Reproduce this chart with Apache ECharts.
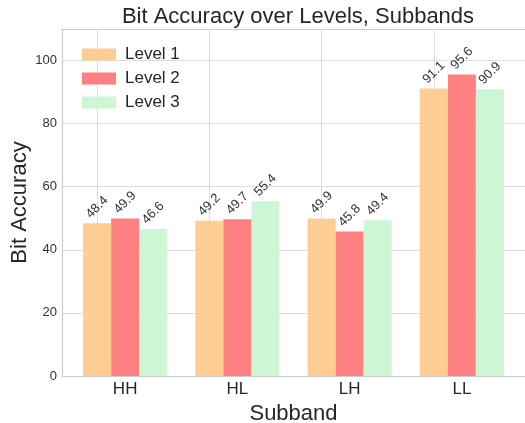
<!DOCTYPE html>
<html>
<head>
<meta charset="utf-8">
<script src="https://cdn.jsdelivr.net/npm/echarts@6/dist/echarts.min.js"></script>
<style>html,body{margin:0;padding:0;background:#fff;}#c{width:525px;height:423px;}</style>
</head>
<body>
<div id="c"></div>
<script>
const categories = ['HH', 'HL', 'LH', 'LL'];
const seriesNames = ['Level 1', 'Level 2', 'Level 3'];
const level1 = [48.4, 49.2, 49.9, 91.1];
const level2 = [49.9, 49.7, 45.8, 95.6];
const level3 = [46.6, 55.4, 49.4, 90.9];
const colors = ['#fecd94', '#ff8080', '#ccf6d4'];
const yTicks = [0, 20, 40, 60, 80, 100];

const FONT = 'Liberation Sans';
const chart = echarts.init(document.getElementById('c'), null, {renderer: 'canvas'});

const values = [level1, level2, level3];
const series = seriesNames.map((name, i) => {
  const s = {
    name: name,
    type: 'bar',
    xAxisIndex: 0,
    yAxisIndex: 0,
    data: values[i],
    barWidth: 28,
    barGap: '0%',
    itemStyle: {color: colors[i]},
    label: {
      show: true,
      position: 'top',
      distance: 16,
      rotate: 45,
      align: 'center',
      verticalAlign: 'middle',
      fontFamily: FONT,
      fontSize: 13,
      color: '#333',
      formatter: p => p.value.toFixed(1)
    }
  };
  if (i === 0) {
    s.markLine = {
      silent: true,
      z: 1,
      symbol: 'none',
      label: {show: false},
      lineStyle: {color: '#dddddd', width: 1, type: 'solid'},
      data: categories.map(c => ({xAxis: c}))
    };
  }
  return s;
});

const frameLine = {show: true, lineStyle: {color: '#cccccc', width: 1.2}};

chart.setOption({
  animation: false,
  backgroundColor: '#fff',
  textStyle: {fontFamily: FONT},
  title: {
    text: 'Bit Accuracy over Levels, Subbands',
    left: 293,
    textAlign: 'center',
    top: 1,
    textStyle: {fontFamily: FONT, fontSize: 22, fontWeight: 'normal', color: '#262626'}
  },
  legend: {
    data: seriesNames,
    orient: 'vertical',
    left: 77,
    top: 41,
    itemWidth: 34,
    itemHeight: 12,
    itemGap: 7,
    icon: 'rect',
    textStyle: {fontFamily: FONT, fontSize: 17, color: '#262626', padding: [0, 0, 0, 4]}
  },
  grid: [
    {left: 69, right: 7, top: 29, bottom: 47, containLabel: false, outerBoundsMode: 'none'},
    {left: 62, right: 0, top: 29, bottom: 47, show: false, containLabel: false, outerBoundsMode: 'none'}
  ],
  xAxis: [
    {
      type: 'category', gridIndex: 0, data: categories, boundaryGap: true,
      axisLine: {show: false}, axisTick: {show: false},
      axisLabel: {fontFamily: FONT, fontSize: 17, color: '#262626', margin: 5},
      splitLine: {show: false},
      name: 'Subband', nameLocation: 'middle', nameGap: 26,
      nameTextStyle: {fontFamily: FONT, fontSize: 22, color: '#262626'}
    },
    {type: 'value', gridIndex: 1, min: 0, max: 1, position: 'bottom',
      axisLine: frameLine, axisTick: {show: false}, axisLabel: {show: false}, splitLine: {show: false}},
    {type: 'value', gridIndex: 1, min: 0, max: 1, position: 'top',
      axisLine: frameLine, axisTick: {show: false}, axisLabel: {show: false}, splitLine: {show: false}}
  ],
  yAxis: [
    {type: 'value', gridIndex: 0, min: 0, max: 110, interval: 20, show: false},
    {
      type: 'value', gridIndex: 1, min: 0, max: 110, interval: 20,
      axisLine: frameLine, axisTick: {show: false},
      axisLabel: {fontFamily: FONT, fontSize: 13, color: '#333', margin: 5,
        formatter: v => (yTicks.indexOf(v) >= 0 ? String(v) : '')},
      splitLine: {show: true, lineStyle: {color: '#dddddd', width: 1}},
      name: 'Bit Accuracy', nameLocation: 'middle', nameGap: 31, nameMoveOverlap: false,
      nameTextStyle: {fontFamily: FONT, fontSize: 22, color: '#262626'}
    }
  ],
  series: series
});
</script>
</body>
</html>
